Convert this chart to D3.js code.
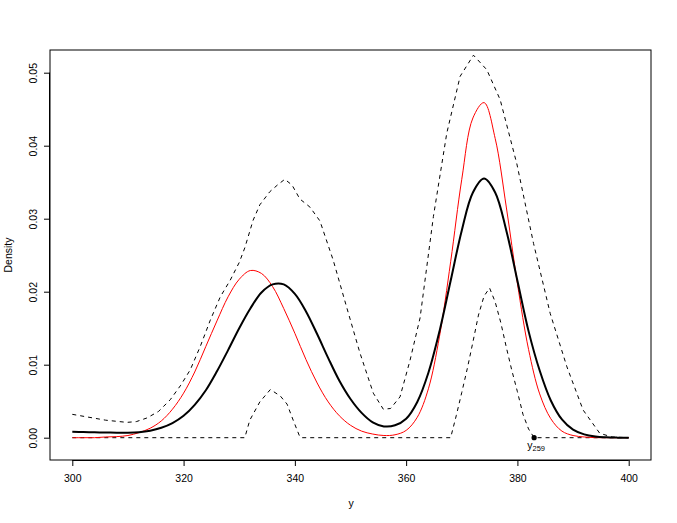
<!DOCTYPE html>
<html><head><meta charset="utf-8">
<script src="https://cdn.jsdelivr.net/npm/d3@7"></script>
<style>
html,body{margin:0;padding:0;background:#fff;}
text{font-family:"Liberation Sans",Arial,Helvetica,sans-serif;fill:#000;}
</style></head>
<body>
<svg id="chart" width="677" height="523"></svg>
<script>
// ---- data ----
const gridX = [300,302,304,306,308,310,312,314,316,318,320,322,324,326,328,330,332,334,336,338,340,342,344,346,348,350,352,354,356,358,360,362,364,366,368,370,372,374,376,378,380,382,384,386,388,390,392,394,396,398,400];
const redDensity = [0,0,0,0.0001,0.00015,0.0003,0.0007,0.0013,0.0023,0.0039,0.0061,0.0090,0.0125,0.0160,0.0193,0.0217,0.0229,0.0225,0.0207,0.0177,0.0143,0.0107,0.0075,0.0049,0.0030,0.0017,0.0009,0.0005,0.0003,0.0004,0.0010,0.0028,0.0067,0.0139,0.0241,0.0354,0.0438,0.0459,0.0410,0.0316,0.0211,0.0121,0.0060,0.0026,0.0009,0.0003,0.0001,0,0,0,0];
const blackDensity = [0.0008,0.00077,0.00074,0.00071,0.00069,0.00068,0.00075,0.00096,0.00136,0.0020,0.0030,0.0045,0.0065,0.0091,0.0120,0.0150,0.0177,0.0199,0.0210,0.0210,0.0197,0.0173,0.0142,0.0109,0.0078,0.0053,0.0034,0.0021,0.00155,0.0017,0.0026,0.0049,0.0089,0.0146,0.0215,0.0284,0.0336,0.0355,0.0336,0.0284,0.0215,0.0146,0.0092,0.0051,0.0025,0.0011,0.00045,0.00016,0.00005,0.00001,0];
const upperX = [300,303,306,309.8,311.5,313.4,315.5,317.6,319.5,321.2,323,324.8,326.6,328.4,330,331,332.5,333.7,335.5,337,338.2,339.5,340.9,342.7,344.5,346.9,349.3,351.7,354.1,355.9,357.2,358.9,360.7,362.5,364.9,367.3,369.7,372.1,374.5,376.9,379.9,382.9,385.9,388.9,391.8,394.8,397,400];
const upperY = [0.0032,0.0028,0.0024,0.0021,0.0022,0.0027,0.0036,0.0052,0.0072,0.0093,0.0125,0.0161,0.0193,0.0216,0.0240,0.0260,0.0298,0.0319,0.0337,0.0347,0.0354,0.0346,0.0327,0.0316,0.0297,0.0243,0.0179,0.0116,0.0061,0.0039,0.0040,0.0056,0.0106,0.0164,0.0303,0.0417,0.0495,0.0524,0.0504,0.0463,0.0375,0.0266,0.0170,0.0097,0.0038,0.0006,0.0001,0];
const lowerX = [300,331,331.9,333.7,335.6,337.4,338.6,339.7,340.9,341.2,368,369,370,371,372,373,374,375,376,377,378,379,380,381,382,383,400];
const lowerY = [0,0,0.0024,0.0049,0.0066,0.0057,0.0046,0.0024,0.0001,0,0,0.0030,0.0062,0.0095,0.0131,0.0168,0.0194,0.0205,0.0186,0.0158,0.0124,0.0092,0.0063,0.0032,0.0012,0,0];
const obsPoint = {x: 383, y: 0, label: "y", sub: "259"};
const xTicks = [300,320,340,360,380,400];
const yTicks = [0,0.01,0.02,0.03,0.04,0.05];
const yTickLabels = ["0.00","0.01","0.02","0.03","0.04","0.05"];
const xTitle = "y", yTitle = "Density";

// ---- layout ----
const svg = d3.select("#chart");
const box = {l:50, t:50, r:651, b:460};
const x = d3.scaleLinear().domain([300,400]).range([72.3,628.7]);
const y = d3.scaleLinear().domain([0,0.05]).range([437.7,72.7]);

svg.append("rect").attr("x",box.l).attr("y",box.t).attr("width",box.r-box.l).attr("height",box.b-box.t)
  .attr("fill","none").attr("stroke","#000").attr("stroke-width",1);

// x axis
const xa = svg.append("g").attr("transform",`translate(0,${box.b})`)
  .call(d3.axisBottom(x).tickValues(xTicks).tickSize(6).tickPadding(9).tickFormat(d3.format("d")));
xa.select(".domain").attr("d",`M${x(300)},0.5H${x(400)}`);
xa.selectAll("text").attr("font-size","10.5px").attr("font-family","Liberation Sans, Arial, sans-serif");

// y axis
const ya = svg.append("g").attr("transform",`translate(${box.l},0)`)
  .call(d3.axisLeft(y).tickValues(yTicks).tickSize(6).tickFormat((d,i)=>yTickLabels[i]));
ya.select(".domain").attr("d",`M-0.5,${y(0)}V${y(0.05)}`);
ya.selectAll("text").attr("font-size","10.5px").attr("font-family","Liberation Sans, Arial, sans-serif")
  .attr("text-anchor","middle").attr("dy",null).attr("x",null)
  .attr("transform","translate(-13,0) rotate(-90)");

svg.append("text").attr("x",351).attr("y",507).attr("text-anchor","middle").attr("font-size","10.5px").text(xTitle);
svg.append("text").attr("transform","translate(12,255) rotate(-90)").attr("text-anchor","middle").attr("font-size","10.5px").text(yTitle);

const plot = svg.append("g");
const smooth = d3.line().x((d,i)=>x(gridX[i])).y(d=>y(d)).curve(d3.curveCatmullRom.alpha(0.5));
const poly = d3.line().x(d=>x(d[0])).y(d=>y(d[1]));

plot.append("path").attr("d",poly(d3.zip(upperX,upperY))).attr("fill","none").attr("stroke","#000").attr("stroke-width",1).attr("stroke-dasharray","4,4");
plot.append("path").attr("d",poly(d3.zip(lowerX,lowerY))).attr("fill","none").attr("stroke","#000").attr("stroke-width",1).attr("stroke-dasharray","4,4");
plot.append("path").attr("d",smooth(redDensity)).attr("fill","none").attr("stroke","#ff0000").attr("stroke-width",1);
plot.append("path").attr("d",smooth(blackDensity)).attr("fill","none").attr("stroke","#000").attr("stroke-width",2);

plot.append("circle").attr("cx",x(obsPoint.x)).attr("cy",y(obsPoint.y)).attr("r",2.6).attr("fill","#000");
const lab = plot.append("text").attr("x",x(obsPoint.x)+2).attr("y",y(obsPoint.y)+11).attr("text-anchor","middle").attr("font-size","10.5px");
lab.append("tspan").attr("fill","#000").text(obsPoint.label);
lab.append("tspan").attr("fill","#000").attr("font-size","7.5px").attr("dy","2").text(obsPoint.sub);
</script>
</body></html>
